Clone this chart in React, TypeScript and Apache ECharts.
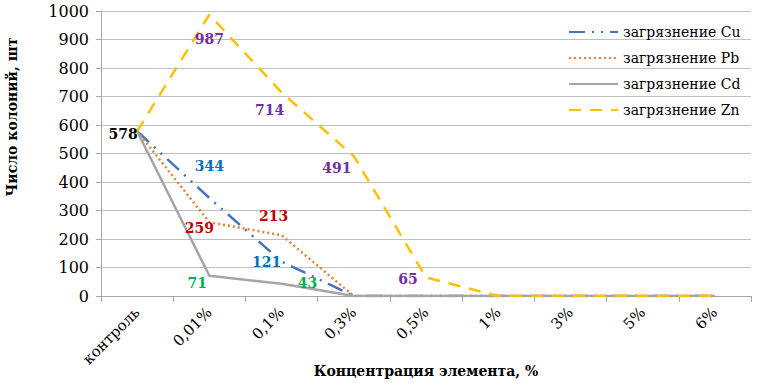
import React, { useEffect, useRef } from "react";
import * as echarts from "echarts";

const categories = ["контроль", "0,01%", "0,1%", "0,3%", "0,5%", "1%", "3%", "5%", "6%"];
const cuValues = [578, 344, 121, 0, 0, 0, 0, 0, 0];
const pbValues = [578, 259, 213, 0, 0, 0, 0, 0, 0];
const cdValues = [578, 71, 43, 0, 0, 0, 0, 0, 0];
const znValues = [578, 987, 714, 491, 65, 0, 0, 0, 0];
const seriesNames = ["загрязнение Cu", "загрязнение Pb", "загрязнение Cd", "загрязнение Zn"];
const xTitle = "Концентрация элемента, %";
const yTitle = "Число колоний, шт";

const cuLabelOffsets: ([number, number] | null)[] = [null, [0, -32], [-15, 0], null, null, null, null, null, null];
const pbLabelOffsets: ([number, number] | null)[] = [null, [-10, 6], [-8, -19], null, null, null, null, null, null];
const cdLabelOffsets: ([number, number] | null)[] = [null, [-12, 7], [26, -1], null, null, null, null, null, null];
const znLabelOffsets: ([number, number] | null)[] = [[-14, 3], [0, 24], [-12, 17], [-17, 12], [-18, 2], null, null, null, null];

const FONT = "DejaVu Serif";

function buildData(values: number[], offsets: ([number, number] | null)[], color: string, firstColor?: string) {
  return values.map((v, i) => {
    const off = offsets[i];
    if (!off) return { value: v, label: { show: false } };
    return {
      value: v,
      label: {
        show: true,
        position: "inside",
        offset: off,
        color: i === 0 && firstColor ? firstColor : color,
        fontFamily: FONT,
        fontSize: 14,
        fontWeight: "bold",
      },
    };
  });
}

export default function App() {
  const ref = useRef<HTMLDivElement>(null);
  useEffect(() => {
    if (!ref.current) return;
    const chart = echarts.init(ref.current, undefined, { renderer: "svg" });
    const common = { type: "line", symbol: "circle", symbolSize: 0, showSymbol: true, z: 2 };
    chart.setOption({
      animation: false,
      backgroundColor: "#ffffff",
      textStyle: { fontFamily: FONT },
      graphic: [
        {
          type: "text",
          x: 12,
          y: 117,
          rotation: Math.PI / 2,
          style: {
            text: yTitle,
            fontFamily: FONT,
            fontSize: 14,
            fontWeight: "bold",
            fill: "#000",
            align: "center",
            verticalAlign: "middle",
          },
        },
        {
          type: "text",
          x: 426,
          y: 371,
          style: {
            text: xTitle,
            fontFamily: FONT,
            fontSize: 14,
            fontWeight: "bold",
            fill: "#000",
            align: "center",
            verticalAlign: "middle",
          },
        },
      ],
      grid: { left: 101, right: 10, top: 11, bottom: 87, containLabel: false, outerBoundsMode: "none" },
      legend: {
        orient: "vertical",
        left: 563,
        top: 20,
        itemWidth: 49,
        itemHeight: 14,
        itemGap: 12,
        itemStyle: { opacity: 0 },
        textStyle: { fontFamily: FONT, fontSize: 14, color: "#000" },
        data: seriesNames,
      },
      xAxis: {
        type: "category",
        data: categories,
        boundaryGap: true,
        axisLine: { lineStyle: { color: "#A6A6A6", width: 1 } },
        axisTick: { show: true, length: 6, lineStyle: { color: "#A6A6A6" } },
        axisLabel: { rotate: 45, fontFamily: FONT, fontSize: 15, color: "#000", margin: 14 },
      },
      yAxis: {
        type: "value",
        min: 0,
        max: 1000,
        interval: 100,
        axisLine: { show: true, lineStyle: { color: "#A6A6A6" } },
        axisTick: { show: true, length: 5, lineStyle: { color: "#A6A6A6" } },
        splitLine: { lineStyle: { color: "#BFBFBF" } },
        axisLabel: {
          fontFamily: FONT,
          fontSize: 16,
          color: "#000",
          margin: 12,
          formatter: (v: number) => String(v),
        },
      },
      series: [
        {
          ...common,
          name: seriesNames[0],
          data: buildData(cuValues, cuLabelOffsets, "#0070C0"),
          itemStyle: { color: "#4472C4" },
          lineStyle: { color: "#4472C4", width: 2.5, type: [16, 7, 2, 7, 2, 7] },
        },
        {
          ...common,
          name: seriesNames[1],
          data: buildData(pbValues, pbLabelOffsets, "#C00000"),
          itemStyle: { color: "#ED7D31" },
          lineStyle: { color: "#ED7D31", width: 2.5, type: [2, 3] },
        },
        {
          ...common,
          name: seriesNames[2],
          data: buildData(cdValues, cdLabelOffsets, "#00B050"),
          itemStyle: { color: "#A5A5A5" },
          lineStyle: { color: "#A5A5A5", width: 2.5, type: "solid" },
        },
        {
          ...common,
          name: seriesNames[3],
          data: buildData(znValues, znLabelOffsets, "#7030A0", "#000000"),
          itemStyle: { color: "#FFC000" },
          lineStyle: { color: "#FFC000", width: 2.5, type: [12, 9] },
        },
      ],
    });
    return () => chart.dispose();
  }, []);
  return (
    <div
      ref={ref}
      style={{ position: "fixed", left: 0, top: 0, width: 761, height: 383 }}
    />
  );
}
